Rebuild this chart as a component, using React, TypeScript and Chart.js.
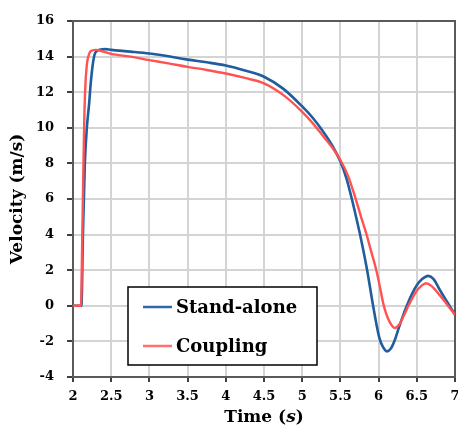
import React, { useEffect, useRef } from "react";
import { Chart, registerables } from "chart.js";

Chart.register(...registerables);

const seriesLabels = ["Stand-alone", "Coupling"];
const xTitleParts = ["Time (", "s", ")"];
const yTitle = "Velocity (m/s)";

const standAloneTime = [2.0, 2.11, 2.13, 2.155, 2.185, 2.21, 2.23, 2.26, 2.29, 2.35, 2.42, 2.5, 2.75, 3.0, 3.25, 3.5, 3.75, 4.0, 4.25, 4.5, 4.75, 5.0, 5.14, 5.28, 5.4, 5.5, 5.58, 5.65, 5.71, 5.76, 5.85, 5.92, 5.97, 6.01, 6.05, 6.11, 6.16, 6.21, 6.26, 6.32, 6.37, 6.43, 6.5, 6.57, 6.65, 6.72, 6.8, 6.9, 7.0];
const standAloneVelocity = [0, 0, 4, 8, 10.2, 11.3, 12.4, 13.6, 14.2, 14.38, 14.42, 14.38, 14.28, 14.17, 14.02, 13.83, 13.68, 13.5, 13.22, 12.87, 12.2, 11.2, 10.55, 9.75, 8.95, 8.1, 7.15, 6.0, 4.9, 3.95, 2.0, 0.2, -1.0, -1.8, -2.25, -2.56, -2.4, -1.95, -1.3, -0.55, 0, 0.6, 1.15, 1.5, 1.68, 1.5, 0.9, 0.2, -0.5];

const couplingTime = [2.0, 2.105, 2.12, 2.135, 2.148, 2.16, 2.18, 2.2, 2.23, 2.3, 2.4, 2.5, 2.75, 3.0, 3.25, 3.5, 3.75, 4.0, 4.25, 4.5, 4.75, 5.0, 5.14, 5.28, 5.4, 5.5, 5.6, 5.69, 5.77, 5.84, 5.9, 5.97, 6.02, 6.06, 6.1, 6.15, 6.21, 6.27, 6.33, 6.39, 6.45, 6.5, 6.56, 6.62, 6.69, 6.8, 6.9, 7.0];
const couplingVelocity = [0, 0, 3.5, 7.5, 10.5, 12.2, 13.5, 14.0, 14.3, 14.38, 14.28, 14.15, 14.0, 13.8, 13.62, 13.42, 13.25, 13.05, 12.8, 12.5, 11.85, 10.9, 10.25, 9.5, 8.85, 8.19, 7.3, 6.15, 5.0, 4.04, 3.1, 2.0, 1.0, 0.15, -0.45, -0.95, -1.25, -1.05, -0.55, 0, 0.5, 0.85, 1.12, 1.27, 1.12, 0.6, 0.05, -0.5];

const FONT = '"DejaVu Serif", "Liberation Serif", serif';

const insideLegend = {
  id: "insideLegend",
  afterDraw(chart: any) {
    const { ctx, chartArea } = chart;
    const left = chartArea.left + 55;
    const top = chartArea.top + 266;
    const w = 189;
    const h = 78;
    ctx.save();
    ctx.fillStyle = "#ffffff";
    ctx.fillRect(left, top, w, h);
    ctx.strokeStyle = "#000000";
    ctx.lineWidth = 1.5;
    ctx.strokeRect(left, top, w, h);
    chart.data.datasets.forEach((ds: any, i: number) => {
      const y = top + 20 + i * 39;
      ctx.strokeStyle = ds.legendColor;
      ctx.lineWidth = 2.5;
      ctx.beginPath();
      ctx.moveTo(left + 15, y);
      ctx.lineTo(left + 44, y);
      ctx.stroke();
      ctx.fillStyle = "#000000";
      ctx.font = `bold 18px ${FONT}`;
      ctx.textBaseline = "middle";
      ctx.textAlign = "left";
      ctx.fillText(ds.label, left + 48, y + 1);
    });
    ctx.restore();
  },
};

const xTitle = {
  id: "xTitle",
  afterDraw(chart: any) {
    const { ctx, chartArea } = chart;
    const fonts = [`bold 17px ${FONT}`, `italic bold 17px ${FONT}`, `bold 17px ${FONT}`];
    ctx.save();
    ctx.fillStyle = "#000";
    ctx.textBaseline = "middle";
    ctx.textAlign = "left";
    const widths = xTitleParts.map((p, i) => {
      ctx.font = fonts[i];
      return ctx.measureText(p).width;
    });
    const total = widths.reduce((a, b) => a + b, 0);
    let x = (chartArea.left + chartArea.right) / 2 - total / 2;
    const y = chart.height - 11;
    xTitleParts.forEach((p, i) => {
      ctx.font = fonts[i];
      ctx.fillText(p, x, y);
      x += widths[i];
    });
    ctx.restore();
  },
};

const frame = {
  id: "frame",
  beforeDatasetsDraw(chart: any) {
    const { ctx, chartArea } = chart;
    ctx.save();
    ctx.strokeStyle = "#5a5a5a";
    ctx.lineWidth = 2;
    ctx.strokeRect(chartArea.left, chartArea.top, chartArea.right - chartArea.left, chartArea.bottom - chartArea.top);
    ctx.restore();
  },
};

const fmt = (v: any) => String(Math.round(Number(v) * 10) / 10);

export default function App() {
  const ref = useRef<HTMLCanvasElement | null>(null);

  useEffect(() => {
    if (!ref.current) return;
    const chart = new Chart(ref.current, {
      type: "line",
      data: {
        datasets: [
          {
            label: seriesLabels[0],
            data: standAloneTime.map((t, i) => ({ x: t, y: standAloneVelocity[i] })),
            borderColor: "#1f5d9c",
            legendColor: "#2f68a8",
            borderWidth: 2.6,
            pointRadius: 0,
            cubicInterpolationMode: "monotone",
            order: 1,
          } as any,
          {
            label: seriesLabels[1],
            data: couplingTime.map((t, i) => ({ x: t, y: couplingVelocity[i] })),
            borderColor: "#ff5252",
            legendColor: "#ff7070",
            borderWidth: 2.4,
            pointRadius: 0,
            cubicInterpolationMode: "monotone",
            order: 0,
          } as any,
        ],
      },
      options: {
        animation: false,
        responsive: false,
        maintainAspectRatio: false,
        layout: { padding: { top: 21, right: 3, left: 0, bottom: 0 } },
        plugins: { legend: { display: false }, tooltip: { enabled: false } },
        scales: {
          x: {
            type: "linear",
            min: 2,
            max: 7,
            ticks: {
              stepSize: 0.5,
              color: "#000",
              padding: 7,
              maxRotation: 0,
              callback: fmt,
              font: { family: FONT, size: 13, weight: "bold" },
            },
            grid: { color: "#d4d4d4", lineWidth: 2, tickLength: 5, tickColor: "#404040" },
            border: { color: "#404040", width: 2 },
            title: { display: false, text: xTitleParts.join("") },
            afterFit(scale: any) {
              scale.height = 52;
              scale.paddingLeft = 0;
              scale.paddingRight = 0;
            },
          },
          y: {
            type: "linear",
            min: -4,
            max: 16,
            ticks: {
              stepSize: 2,
              color: "#000",
              padding: 13,
              callback: fmt,
              font: { family: FONT, size: 13, weight: "bold" },
            },
            grid: { color: "#d4d4d4", lineWidth: 2, tickLength: 6, tickColor: "#404040" },
            border: { color: "#404040", width: 2 },
            title: {
              display: true,
              text: yTitle,
              color: "#000",
              font: { family: FONT, size: 17, weight: "bold" },
              padding: { top: 7, bottom: 0 },
            },
            afterFit(scale: any) {
              scale.width = 73;
              scale.paddingTop = 0;
              scale.paddingBottom = 0;
            },
          },
        },
      } as any,
      plugins: [frame, insideLegend, xTitle],
    });
    return () => chart.destroy();
  }, []);

  return (
    <div style={{ position: "fixed", left: 0, top: 0, width: 458, height: 429, background: "#fff" }}>
      <canvas ref={ref} width={458} height={429} style={{ display: "block", width: 458, height: 429 }} />
    </div>
  );
}
